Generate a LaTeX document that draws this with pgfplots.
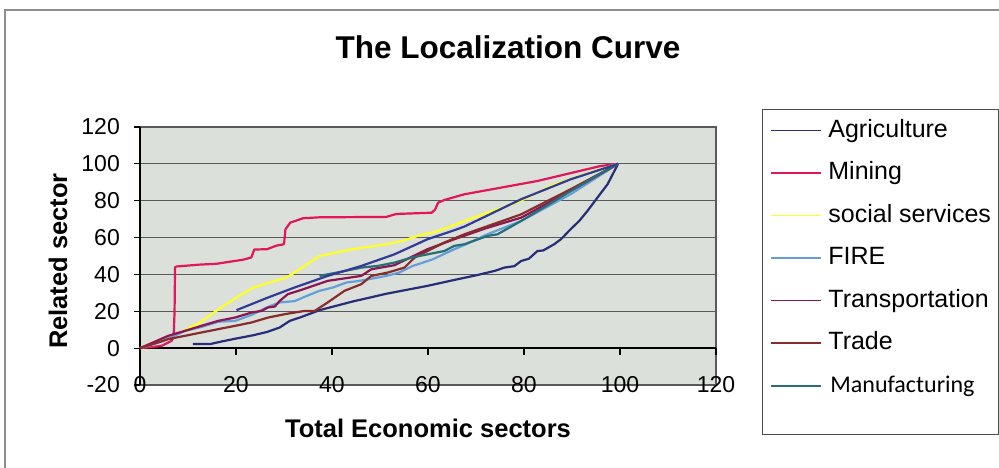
\documentclass[border=0pt]{standalone}
\usepackage{pgfplots}
\pgfplotsset{compat=1.18}
\usepackage{fontspec}
\setmainfont{Liberation Sans}
\newfontfamily\calibri{Carlito}

\definecolor{plotbg}{RGB}{220,224,218}
\definecolor{agri}{RGB}{40,45,120}
\definecolor{extrablue}{RGB}{50,60,150}
\definecolor{mining}{RGB}{226,22,92}
\definecolor{social}{RGB}{255,255,40}
\definecolor{fire}{RGB}{100,160,215}
\definecolor{transp}{RGB}{140,22,82}
\definecolor{trade}{RGB}{135,45,45}
\definecolor{manuf}{RGB}{40,110,120}

\pgfplotsset{shortlegend/.style={legend image code/.code={%
  \path (0pt,0pt) -- (50pt,0pt);
  \draw[##1, line width=1.6pt] (0pt,0pt) -- (33pt,0pt);}}}

\begin{document}
\begin{tikzpicture}[x=1pt,y=1pt]
\path[use as bounding box] (0,0) rectangle (999,468);
% chart frame
\draw[black!45, line width=1.2pt] (5,-30) rectangle (1030,458);
% title
\node[font=\fontsize{31.5}{35}\selectfont\bfseries] at (508,421) {The Localization Curve};
% legend frame
\draw[black!70, line width=1pt] (762,33) rectangle (998,358);

\begin{axis}[
  at={(140pt,83pt)}, anchor=south west,
  width=576pt, height=258pt, scale only axis,
  xmin=0, xmax=120, ymin=-20, ymax=120,
  clip=false,
  xtick={0,20,...,120}, ytick={-20,0,...,120},
  major tick length=0pt,
  axis background/.style={fill=plotbg},
  ymajorgrids,
  grid style={black!65, line width=1.1pt},
  axis line style={black!65, line width=1.1pt},
  ticklabel style={font=\fontsize{23}{26}\selectfont},
  /pgf/number format/assume math mode=true,
  xticklabel style={anchor=center, inner sep=0pt},
  yticklabel style={anchor=east, inner sep=0pt, xshift=-20pt},
  xlabel={Total Economic sectors},
  ylabel={Related sector},
  label style={font=\fontsize{25.5}{28}\selectfont\bfseries},
  xlabel style={at={(axis description cs:0.5,0)}, anchor=center, yshift=-43pt},
  ylabel style={at={(axis description cs:0,0.5)}, anchor=center, xshift=-5pt, yshift=82pt},
  legend style={at={(axis description cs:1,1)}, anchor=north west,
    xshift=54pt, yshift=8pt, draw=none, fill=none, inner sep=0pt,
    font=\fontsize{25}{28}\selectfont,
    nodes={inner sep=0pt, text height=18pt, text depth=5pt},
    row sep=19.5pt, column sep=6pt},
  legend cell align=left,
  legend image code/.code={\draw[#1, line width=1.6pt] (0pt,0pt) -- (50pt,0pt);},
  every axis plot/.append style={line width=2.2pt, line join=round},
]

% y = 0 axis and left axis with outward ticks
\draw[black, line width=1.3pt] (axis cs:0,0) -- (axis cs:120,0);
\draw[black, line width=1.3pt] (axis cs:0,-20) -- (axis cs:0,120);
\pgfplotsinvokeforeach{20,40,...,120}{\draw[black, line width=1.2pt] (axis cs:#1,0) -- (axis cs:#1,-3.8);}
\pgfplotsinvokeforeach{-20,0,...,120}{\draw[black, line width=1.2pt] (axis cs:0,#1) -- (axis cs:-1.25,#1);}

\addplot[agri] coordinates {
(11,2.2) (14.6,2.2) (17,3.6) (20,5.2) (23.6,7) (26.5,8.8) (29.1,11.2) (31.2,14.8)
(33.3,16.6) (37.4,20.6) (44.3,25.3) (51.3,29.5) (59.9,33.8) (65.3,36.9) (70,39.5)
(74,42) (75.9,43.7) (78,44.5) (79.4,47.3) (81,48.5) (82.8,52.7) (84,53) (86.3,56.4)
(87.7,59.1) (89.7,64.5) (91.5,69) (93.2,74.4) (95.3,81.7) (97.4,88.9) (99.6,100)};
\addlegendentry{Agriculture}

\addplot[mining] coordinates {
(0,0) (2,0.5) (4.5,1.2) (6.6,4) (7.0,6) (7.2,19.5) (7.3,43.9) (7.6,44.3) (12.3,45.3)
(16,45.8) (21.5,48) (23.2,49.2) (23.8,53.5) (26.5,53.7) (28.4,55.6) (30,56.4)
(30.3,64.5) (31.3,68.1) (34,70.5) (37.4,71) (51.3,71.2) (53.4,72.8) (60.8,73.5)
(61.5,75.3) (62.1,78.9) (63.4,80.4) (67.6,83.5) (75,87) (82.8,90.7) (95.9,98.8)
(99.6,100)};
\addlegendentry{Mining}

\addplot[social] coordinates {
(0,0) (5,4) (9,9.4) (12.5,13.9) (16.4,21.1) (20.1,27.5) (23.6,32.9) (27,35.6)
(30.5,38.3) (33.3,42.8) (37.4,50) (44.3,53.7) (51.3,56.4) (54.7,58.2) (58.2,61.2)
(61.7,63.2) (68.6,69.9) (79,79.5) (86,88.5) (93,94.7) (99.6,100)};
\addlegendentry{social services}

\addplot[fire] coordinates {
(0,0) (4.5,3.5) (9.4,9.4) (12.8,11.5) (16.3,14.3) (19.8,14.8) (23.6,18.4) (26.3,22)
(29.1,24.8) (32.2,25.5) (34.7,28.3) (37.4,31.1) (40.2,32.9) (43,35.6) (45.7,36.5)
(48.5,37.8) (51.3,39.2) (54,41) (56.8,44.6) (61,48.2) (65.5,53.7) (67.6,56)
(72.4,61.8) (79.4,69) (89.7,83.5) (99.6,100)};
\addlegendentry{FIRE}

\addplot[transp] coordinates {
(0,0) (5.9,6.7) (9.4,9.4) (12.8,12.1) (16.3,14.8) (19.8,16.6) (23.2,19.3) (25.3,20.2)
(26.7,22.1) (28.1,22.6) (29.1,25.6) (30.8,29.3) (33.5,31.5) (39.1,36.5) (46.1,39.2)
(48.2,42.8) (53,45) (59.9,53.7) (65.5,59.1) (72,65) (79.4,70.8) (89.7,85.3) (99.6,100)};
\addlegendentry{Transportation}

\addplot[trade] coordinates {
(0,0) (5.9,4.9) (9.4,6.7) (12.8,8.5) (16.3,10.3) (19.8,12.1) (23.2,13.9) (26.7,16.6)
(30.1,18.4) (34.3,20.2) (36.4,20.2) (39.1,24.8) (42.6,31.1) (46.1,34.7) (48.2,39.2)
(51.6,41) (55.1,43.7) (57.2,49.1) (59.9,52.7) (63.4,57.3) (67.6,61.8) (79.4,72.6)
(89.7,86.2) (99.6,100)};
\addlegendentry{Trade}

\addplot[manuf, shortlegend] coordinates {
(37.4,39.2) (42,41.5) (46.1,43.7) (49.5,44.6) (53,46.4) (56.5,49.1) (59.9,50.9)
(63.4,52.7) (65.5,55.5) (67.6,56.4) (72.4,60.9) (74.5,61.8) (79.4,69) (86.3,79.8)
(93.2,90.7) (99.6,100)};
\addlegendentry{\calibri\fontsize{24}{28}\selectfont\hspace{2pt}Manufacturing}

\addplot[extrablue, forget plot] coordinates {
(20.1,20.6) (26.7,27.5) (32.2,32.9) (39.1,39.2) (46.1,44.6) (53,50.9) (59.9,59.1)
(65.5,64) (67.6,66) (72,71.5) (79.4,80.8) (89.7,91.6) (99.6,100)};

\end{axis}
\end{tikzpicture}
\end{document}
